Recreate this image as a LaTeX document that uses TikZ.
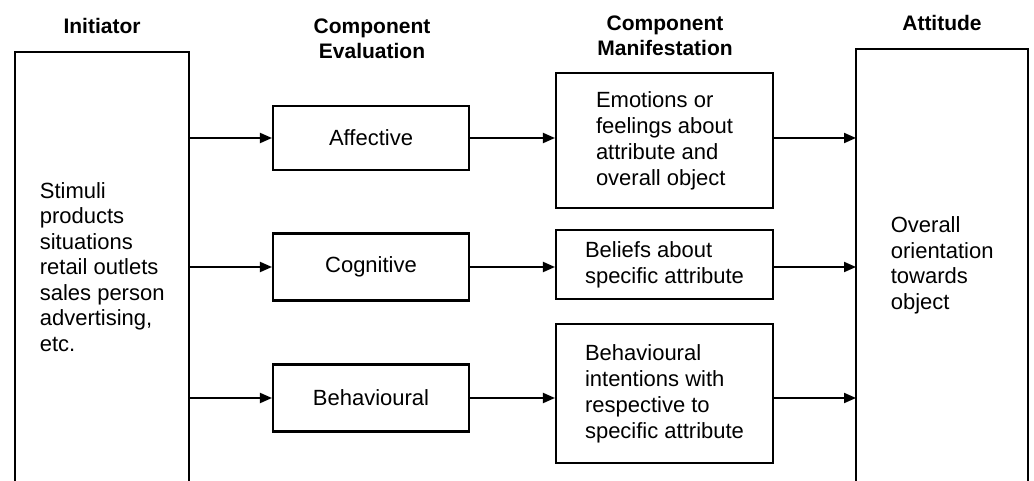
\documentclass[tikz,border=0pt]{standalone}
\usepackage{fontspec}
\setmainfont{Liberation Sans}
\usetikzlibrary{arrows.meta,positioning}

\tikzset{
  box/.style={draw, line width=2.1pt, inner sep=0pt, align=left,
    font=\fontsize{22pt}{26pt}\selectfont},
  openbox/.style={inner sep=0pt, align=left,
    font=\fontsize{22pt}{25.5pt}\selectfont},
  side/.style={line width=2.1pt},
  head/.style={align=center, inner sep=0pt,
    font=\fontsize{21pt}{25pt}\selectfont\bfseries},
  link/.style={line width=1.9pt, -{Triangle[length=12pt,width=10pt]}},
}

\begin{document}
\begin{tikzpicture}[x=1pt, y=-1pt]
  \useasboundingbox (0,0) rectangle (1034,481);

  % column headings
  \node[head] (h1) at (102,25.5) {Initiator};
  \node[head] (h2) at (372,39) {Component\\Evaluation};
  \node[head] (h3) at (665,35.5) {Component\\Manifestation};
  \node[head] (h4) at (942,23) {Attitude};

  % tall side boxes, open at the bottom
  \node[openbox, minimum width=174pt, minimum height=429pt, anchor=north west]
    (init) at (15,52) {Stimuli\\products\\situations\\retail outlets\\sales person\\advertising,\\etc.};
  \draw[side] (init.south west) -- (init.north west) -- (init.north east) -- (init.south east);

  \node[openbox, minimum width=172pt, minimum height=432pt, anchor=north west]
    (att) at (856,49) {Overall\\orientation\\towards\\object};
  \draw[side] (att.south west) -- (att.north west) -- (att.north east) -- (att.south east);

  % component evaluation
  \node[box, minimum width=196pt, minimum height=64pt, align=center] (aff) at (371,138) {Affective};
  \node[box, minimum width=196pt, minimum height=67pt, align=center] (cog) at (371,267) {Cognitive};
  \node[box, minimum width=196pt, minimum height=67pt, align=center] (beh) at (371,398) {Behavioural};

  % component manifestation
  \node[box, minimum width=217pt, minimum height=135pt] (emo) at (664.5,140.5)
    {Emotions or\\feelings about\\attribute and\\overall object};
  \node[box, minimum width=217pt, minimum height=69pt] (bel) at (664.5,264.5)
    {Beliefs about\\specific attribute};
  \node[box, minimum width=217pt, minimum height=139pt] (int) at (664.5,393.5)
    {Behavioural\\intentions with\\respective to\\specific attribute};

  % connectors
  \foreach \e/\m in {aff/emo, cog/bel, beh/int} {
    \draw[link] (\e.west -| init.east) -- (\e.west);
    \draw[link] (\e.east) -- (\e.east -| \m.west);
    \draw[link] (\e.east -| \m.east) -- (\e.east -| att.west);
  }
\end{tikzpicture}
\end{document}
